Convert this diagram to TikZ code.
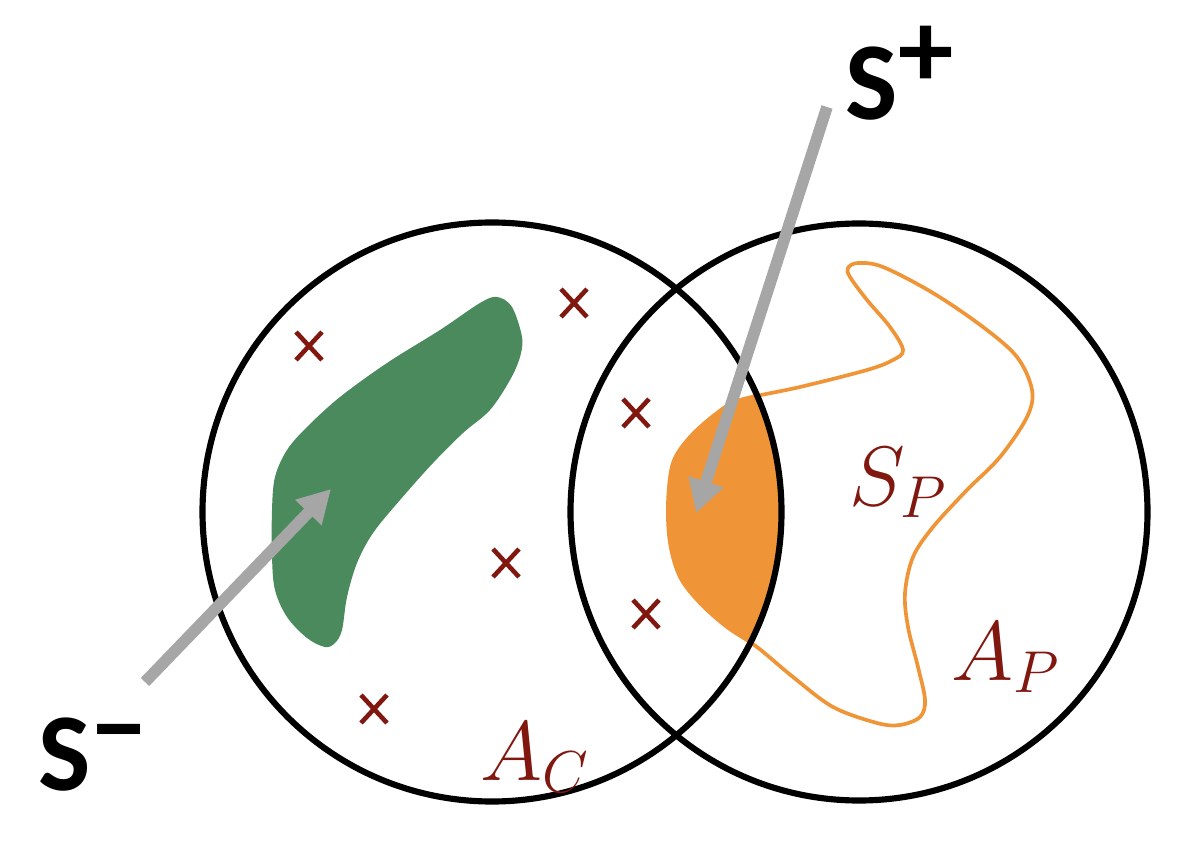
\documentclass[tikz,border=0pt]{standalone}
\usepackage{fix-cm}
\usepackage{fontspec}
\usepackage{tikz}
\usetikzlibrary{arrows.meta}
\newfontfamily\labelfont{Carlito}
\definecolor{setred}{RGB}{128,24,16}
\definecolor{blobgreen}{RGB}{74,138,92}
\definecolor{bloborange}{RGB}{240,149,55}
\definecolor{pointergray}{RGB}{166,166,166}
\def\crossat(#1,#2){\draw[line width=1.3pt, color=setred] (#1-13, #2-14) -- (#1+13, #2+14) (#1-13, #2+14) -- (#1+13, #2-14);}
\def\spshape{plot[smooth cycle, tension=0.55] coordinates {(740,400) (800,387) (867,370) (893,360) (903,350) (890,327) (867,300) (850,277) (848,268) (858,263) (883,267) (933,293) (983,327) (1017,357) (1032,390) (1027,417) (1000,457) (967,490) (933,527) (913,557) (905,593) (908,627) (918,667) (925,700) (920,717) (900,725) (877,723) (833,707) (793,677) (757,647) (727,627) (700,603) (680,577) (670,543) (668,503) (673,463) (690,437) (717,413)}}

\begin{document}
\begin{tikzpicture}[x=0.01cm, y=-0.01cm,
	setlabel/.style={anchor=base west, inner sep=0pt, text=setred, font=\fontsize{24}{28}\selectfont},
	signlabel/.style={anchor=base west, inner sep=0pt, font=\labelfont\bfseries\fontsize{31.5}{36}\selectfont},
	pointer/.style={line width=3.3pt, color=pointergray, -{Triangle[length=9.3pt, width=9.8pt]}}]
	%%%%% START %%%%%
	\useasboundingbox (0, 0) rectangle (1200, 846);
	
	\fill[blobgreen] plot[smooth cycle, tension=0.55] coordinates {(497,297) (512,307) (522,337) (520,357) (510,380) (490,410) (463,433) (433,463) (400,500) (373,533) (357,563) (347,597) (342,630) (335,643) (325,647) (307,638) (287,617) (275,590) (272,557) (272,510) (275,477) (287,450) (307,427) (340,397) (387,363) (440,330) (480,303)};
	
	\begin{scope}
		\clip (492, 512) circle (289.5);
		\fill[bloborange] \spshape;
	\end{scope}
	\draw[line width=1.05pt, color=bloborange] \spshape;
	
	\draw[line width=1.75pt] (492, 512) circle (289.5);
	\draw[line width=1.75pt] (859, 512) circle (288.5);
	
	\crossat(309,346)
	\crossat(574,303)
	\crossat(636,413)
	\crossat(506,563)
	\crossat(646,614)
	\crossat(374,709)
	
	\node[setlabel] (ac) at (480, 780) {$A_C$};
	\node[setlabel] (sp) at (849, 505) {$S_P$};
	\node[setlabel] (ap) at (951, 680) {$A_P$};
	
	\node[signlabel] (splus) at (845, 120) {S\raisebox{0.29em}{+}};
	\node[signlabel] (sminus) at (38, 790) {S\raisebox{0.23em}{−}};
	
	\coordinate (plustail) at (827, 107);
	\coordinate (plustip) at (696, 513);
	\coordinate (minustail) at (145, 682);
	\coordinate (minustip) at (331, 489);
	\draw[pointer] (plustail) -- (plustip);
	\draw[pointer] (minustail) -- (minustip);
	%%%%% END %%%%%
\end{tikzpicture}
\end{document}
